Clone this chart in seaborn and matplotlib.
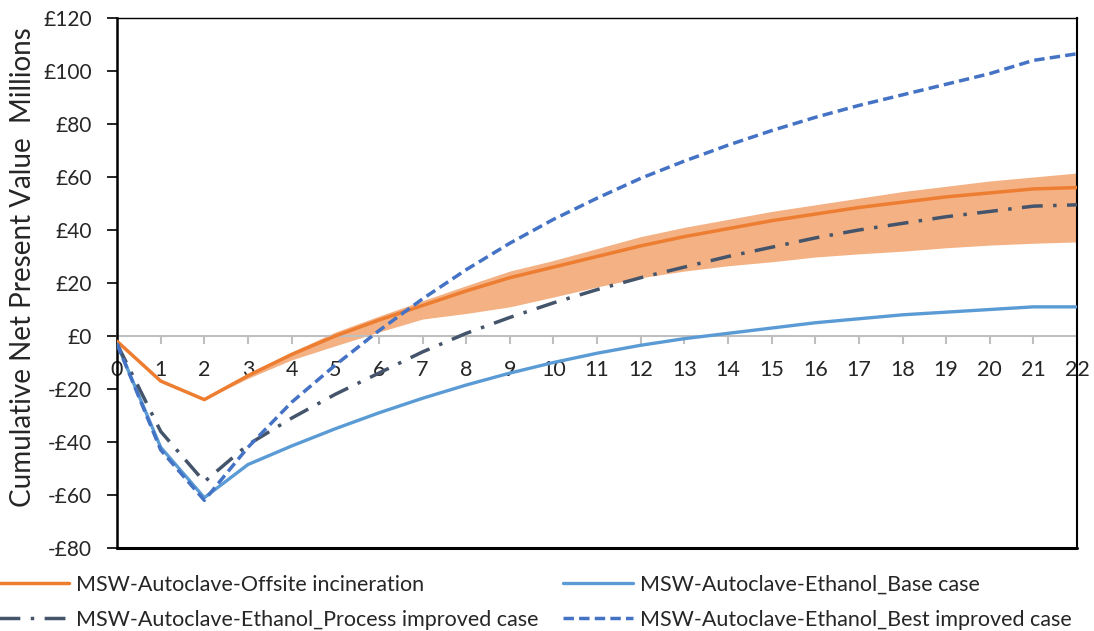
import matplotlib
matplotlib.use('Agg')
import matplotlib.pyplot as plt
import seaborn as sns
import numpy as np

# years of operation
years = list(range(0, 23))

# cumulative NPV, £ millions
offsite = [-2, -17, -24, -15, -7, 0, 6, 11.5, 17, 22, 26, 30, 34, 37.5, 40.5,
           43.5, 46, 48.5, 50.5, 52.5, 54, 55.5, 56]
offsite_upper = [-2, -17, -24, -14, -6, 1.5, 7.5, 13.3, 19, 24.5, 28.5, 33, 37.5, 41,
                 44, 47, 49.5, 52, 54.5, 56.5, 58.5, 60, 61.5]
offsite_lower = [-2, -17, -24, -16, -9, -3.7, 1.5, 6.4, 8.5, 11, 14.7, 18.5, 22, 24.5,
                 26.5, 28, 29.8, 31, 32, 33.3, 34.3, 35, 35.5]
base_case = [-3, -42, -61, -48.5, -41.5, -35, -29, -23.5, -18.5, -14, -10, -6.5,
             -3.5, -1, 1, 3, 5, 6.5, 8, 9, 10, 11, 11]
process_case = [-3, -36, -55, -41, -31, -22, -14, -6, 1, 7, 12.5, 17.5, 22, 26,
                30, 33.5, 37, 40, 42.5, 45, 47, 49, 49.5]
best_case = [-3, -43, -62, -42, -25, -11, 2, 14, 25, 35, 44, 52, 59.5, 66, 72,
             77.5, 82.5, 87, 91, 95, 99, 104, 106.5]

y_ticks = list(range(-80, 121, 20))
y_labels = [('-£%d' % -v) if v < 0 else '£%d' % v for v in y_ticks]

sns.set_style('white')
plt.rcParams['font.family'] = ['Lato', 'DejaVu Sans']

fig = plt.figure(figsize=(10.94, 6.31), dpi=100)
ax = fig.add_axes([0.107, 0.1315, 0.8775, 0.84])

ax.fill_between(years, offsite_lower, offsite_upper, color='#F4B183', lw=0, zorder=1)

sns.lineplot(x=years, y=offsite, ax=ax, color='#ED7D31', lw=2.5, zorder=3,
             label='MSW-Autoclave-Offsite incineration')
sns.lineplot(x=years, y=base_case, ax=ax, color='#5B9BD5', lw=2.4, zorder=3,
             label='MSW-Autoclave-Ethanol_Base case')
sns.lineplot(x=years, y=process_case, ax=ax, color='#44546A', lw=2.5, zorder=4,
             label='MSW-Autoclave-Ethanol_Process improved case')
sns.lineplot(x=years, y=best_case, ax=ax, color='#4472C4', lw=2.5, zorder=4,
             label='MSW-Autoclave-Ethanol_Best improved case')
ax.lines[2].set_dashes([6, 3, 1, 3])
ax.lines[3].set_dashes([3, 1.5])

# Excel style: category axis crosses at zero
ax.spines['bottom'].set_position(('data', 0))
ax.spines['bottom'].set_color('#BFBFBF')
ax.spines['bottom'].set_linewidth(1.5)
ax.spines['bottom'].set_zorder(2)
ax.spines['left'].set_color('black')
ax.spines['left'].set_linewidth(1.8)
ax.spines['right'].set_color('black')
ax.spines['right'].set_linewidth(1.5)
ax.spines['top'].set_color('black')
ax.spines['top'].set_linewidth(1.0)
ax.axhline(-80, color='black', lw=2.2, clip_on=False)

ax.set_xlim(0, 22)
ax.set_ylim(-80, 120)
ax.set_yticks(y_ticks)
ax.set_yticklabels(y_labels)
ax.set_xticks(years)
ax.set_xticklabels([str(v) for v in years])
ax.tick_params(axis='x', direction='out', length=6, width=1.5, color='#BFBFBF',
               pad=11, labelsize=15.5, bottom=True)
ax.tick_params(axis='y', direction='out', length=7, width=1.2, color='black',
               pad=11, labelsize=15, left=True)

ax.set_ylabel('Cumulative Net Present Value  Millions', fontsize=20)
ax.yaxis.set_label_coords(-0.084, 0.53)

# legend rows: offsite | base, process | best
h, l = ax.get_legend_handles_labels()
order = [0, 2, 1, 3]
ax.legend([h[i] for i in order], [l[i] for i in order],
          loc='upper left', bbox_to_anchor=(-0.123, -0.05), ncol=2, frameon=False,
          fontsize=15.5, handlelength=3.25, handletextpad=0.33, columnspacing=1.15,
          labelspacing=0.72, borderaxespad=0, borderpad=0)

fig.savefig('out.png', dpi=100)
